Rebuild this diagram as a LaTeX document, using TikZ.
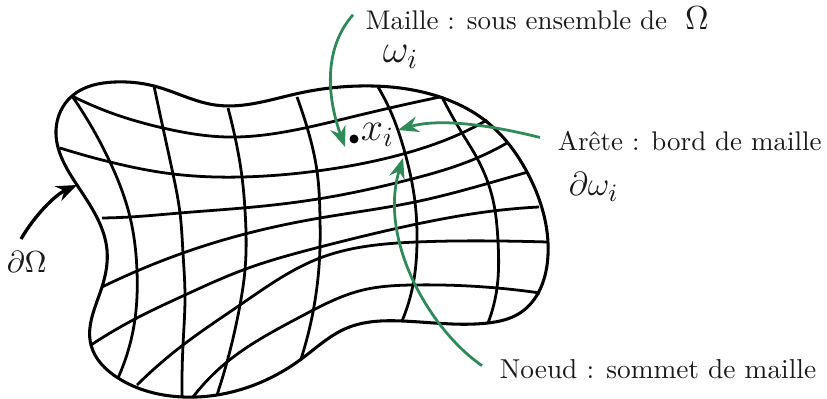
\documentclass[tikz,border=0pt]{standalone}
\usepackage{amsmath}
\usepackage{xcolor}
\usetikzlibrary{arrows.meta, hobby}
\definecolor{meshgreen}{HTML}{2E8B57}
\tikzset{
  mesh/.style={line width=1pt, color=black, use Hobby shortcut},
  note/.style={-{Stealth[length=2.6mm,width=2mm]}, line width=1pt, color=meshgreen},
  bordarrow/.style={-{Stealth[length=2.6mm,width=2mm]}, line width=1.2pt, color=black},
  label/.style={inner sep=3pt, anchor=base west, text=black!90, font=\fontsize{9.7}{12}\selectfont}
}

\begin{document}
\begin{tikzpicture}[x=0.36pt,y=-0.36pt]
\useasboundingbox (0,0) rectangle (827,399);
% contour
\draw[mesh, line width=1.1pt, closed=true] (72,96) .. (115,82) .. (154,86) .. (215,105) .. (300,93) .. (360,86) .. (440,97) .. (487,122) .. (527,172) .. (548,255) .. (520,313) .. (488,323) .. (402,321) .. (347,328) .. (300,360) .. (217,395) .. (183,397) .. (118,378) .. (91,345) .. (102,287) .. (107,250) .. (77,185) .. (56,130);
% lignes horizontales
\draw[mesh] (72,96) .. (117,115) .. (163,128) .. (227,137) .. (300,129) .. (360,115) .. (440,97);
\draw[mesh] (60,148) .. (110,162) .. (173,174) .. (242,177) .. (317,171) .. (403,154) .. (462,133) .. (487,120);
\draw[mesh] (102,218) .. (130,217) .. (180,213) .. (243,208) .. (318,199) .. (408,180) .. (477,158) .. (507,143);
\draw[mesh] (102,287) .. (137,271) .. (183,253) .. (245,234) .. (320,218) .. (415,202) .. (493,182) .. (528,172);
\draw[mesh] (91,345) .. (135,319) .. (185,295) .. (243,270) .. (320,247) .. (417,224) .. (493,211) .. (539,207);
\draw[mesh] (137,385) .. (183,345) .. (240,305) .. (320,258) .. (417,242) .. (498,241) .. (547,242);
\draw[mesh] (193,397) .. (227,362) .. (300,317) .. (363,290) .. (413,285) .. (497,288) .. (540,293);
% lignes verticales
\draw[mesh] (72,96) .. (110,162) .. (130,217) .. (137,271) .. (135,319) .. (118,378);
\draw[mesh] (154,86) .. (163,128) .. (173,174) .. (180,213) .. (183,253) .. (185,295) .. (183,345) .. (182,396);
\draw[mesh] (228,108) .. (235,137) .. (242,177) .. (245,210) .. (245,270) .. (240,305) .. (227,362) .. (217,395);
\draw[mesh] (297,97) .. (307,127) .. (317,171) .. (320,218) .. (320,247) .. (313,312) .. (301,359);
\draw[mesh] (378,87) .. (390,110) .. (405,153) .. (415,202) .. (417,242) .. (413,285) .. (402,321);
\draw[mesh] (442,97) .. (462,133) .. (477,158) .. (493,200) .. (498,241) .. (497,288) .. (488,323);
% textes
\node[label] (maille) at (357,30) {Maille : sous ensemble de \,\,{\large $\Omega$}};
\node[label] (omega) at (374,63) {\Large $\omega_i$};
\node[label] (arete) at (549,151) {Ar\^ete : bord de maille};
\node[label] (domega) at (560,196) {\fontsize{13}{15}\selectfont $\partial\omega_i$};
\node[label, font=\fontsize{9.85}{12}\selectfont] (noeud) at (491,379) {Noeud : sommet de maille};
\node[label] (bord) at (-2,273) {\fontsize{11.3}{13}\selectfont $\partial\Omega$};
% maille courante
\coordinate (centre) at (354,139);
\fill (centre) circle (4.5);
\node[label] (xi) at (352,141) {\Large $x_i$};
\coordinate (ptmaille) at (345,147);
\coordinate (ptarete) at (398,130);
\coordinate (ptnoeud) at (403,158);
\coordinate (ptbord) at (77,185);
\coordinate (debord) at (21,239);
% fleches
\draw[note] (maille.west) ++(-4,-4) .. controls (322,50) and (328,100) .. (ptmaille);
\draw[note] (arete.west) ++(-9,-4) .. controls (490,125) and (440,118) .. (ptarete);
\draw[note] (noeud.west) ++(-9,-4) .. controls (430,330) and (378,240) .. (ptnoeud);
\draw[bordarrow] (debord) .. controls (35,215) and (55,195) .. (ptbord);
\end{tikzpicture}
\end{document}
